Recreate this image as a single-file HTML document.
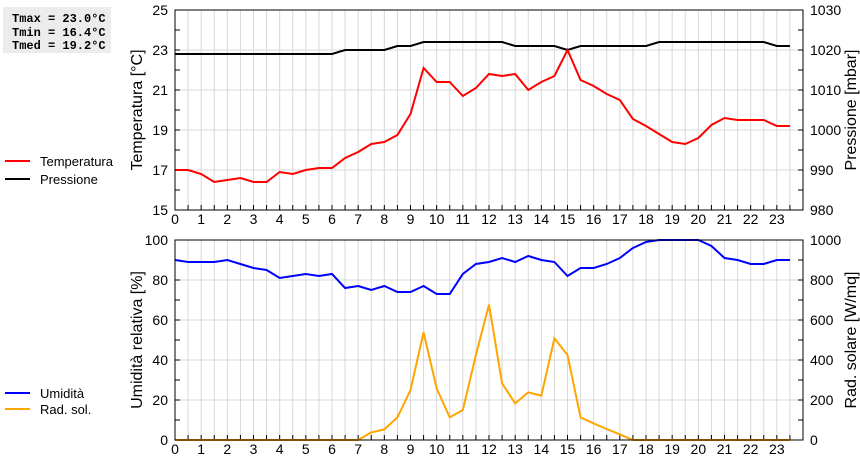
<!DOCTYPE html>
<html><head><meta charset="utf-8"><style>
body{margin:0;background:#fff;width:860px;height:460px;overflow:hidden}
svg{display:block;font-family:"Liberation Sans",sans-serif}
.stats{position:absolute;left:3px;top:7px;width:108px;height:46px;background:#ececec}
</style></head><body>
<svg id="c" width="860" height="460" xmlns="http://www.w3.org/2000/svg">
<rect x="3" y="7" width="108" height="46" fill="#ececec"/>
<g font-family="Liberation Mono,monospace" font-weight="bold" font-size="12" fill="#000">
<text x="12" y="22">Tmax = 23.0°C</text>
<text x="12" y="36">Tmin = 16.4°C</text>
<text x="12" y="49">Tmed = 19.2°C</text>
</g>
<g id="g"></g>
</svg>
<script>
const hours=[];for(let i=0;i<48;i++)hours.push(i/2);
const temp=[17.0,17.0,16.8,16.4,16.5,16.6,16.4,16.4,16.9,16.8,17.0,17.1,17.1,17.6,17.9,18.3,18.4,18.75,19.8,22.1,21.4,21.4,20.7,21.1,21.8,21.7,21.8,21.0,21.4,21.7,23.0,21.5,21.2,20.8,20.5,19.55,19.2,18.8,18.4,18.3,18.6,19.25,19.6,19.5,19.5,19.5,19.2,19.2];
const press=[1019,1019,1019,1019,1019,1019,1019,1019,1019,1019,1019,1019,1019,1020,1020,1020,1020,1021,1021,1022,1022,1022,1022,1022,1022,1022,1021,1021,1021,1021,1020,1021,1021,1021,1021,1021,1021,1022,1022,1022,1022,1022,1022,1022,1022,1022,1021,1021];
const hum=[90,89,89,89,90,88,86,85,81,82,83,82,83,76,77,75,77,74,74,77,73,73,83,88,89,91,89,92,90,89,82,86,86,88,91,96,99,100,100,100,100,97,91,90,88,88,90,90];
const rad=[0,0,0,0,0,0,0,0,0,0,0,0,0,0,0,38,53,113,250,538,258,113,150,425,677,283,183,238,222,508,425,113,83,55,28,0,0,0,0,0,0,0,0,0,0,0,0,0];
const tempTicks=[15,17,19,21,23,25];
const pressTicks=[980,990,1000,1010,1020,1030];
const humTicks=[0,20,40,60,80,100];
const radTicks=[0,200,400,600,800,1000];
const NS="http://www.w3.org/2000/svg";
const G=document.getElementById('g');
const L=175,R=803;
const X=h=>L+(R-L)*h/24;
function el(t,a,p){const e=document.createElementNS(NS,t);for(const k in a)e.setAttribute(k,a[k]);(p||G).appendChild(e);return e;}
function panel(top,bot,lmin,lmax,lt,rmin,rmax,rt,s1,c1,s2,c2,ltitle,rtitle,nm){
 const g=el('g',{});
 
 
 const yL=v=>bot-(bot-top)*(v-lmin)/(lmax-lmin);
 const yR=v=>bot-(bot-top)*(v-rmin)/(rmax-rmin);
 for(let i=1;i<48;i++){const l=el('line',{x1:X(i/2),x2:X(i/2),y1:top,y2:bot,stroke:'#d8d8d8'},g);}
 lt.forEach((v,i)=>{
  if(i>0&&i<lt.length-1){const l=el('line',{x1:L,x2:R,y1:yL(v),y2:yL(v),stroke:'#d8d8d8'},g);}
  const t=el('text',{x:168,y:yL(v)+5,'text-anchor':'end','font-size':14},g);t.textContent=v;
  
  el('line',{x1:L,x2:L+5,y1:yL(v),y2:yL(v),stroke:'#000'},g);
  if(i<lt.length-1){const m=yL((v+lt[i+1])/2);el('line',{x1:L,x2:L+5,y1:m,y2:m,stroke:'#000'},g);el('line',{x1:R-5,x2:R,y1:m,y2:m,stroke:'#000'},g);}
 });
 rt.forEach(v=>{
  const t=el('text',{x:810,y:yR(v)+5,'font-size':14},g);t.textContent=v;
  
  el('line',{x1:R-5,x2:R,y1:yR(v),y2:yR(v),stroke:'#000'},g);
 });
 for(let i=0;i<48;i++){el('line',{x1:X(i/2),x2:X(i/2),y1:bot-5,y2:bot,stroke:'#000'},g);}
 for(let h=0;h<24;h++){const t=el('text',{x:X(h),y:bot+14,'text-anchor':'middle','font-size':14},g);t.textContent=h;}
 const mk=(s,sc,c,n)=>{const p=el('polyline',{points:s.map((v,i)=>X(hours[i])+','+sc(v)).join(' '),fill:'none',stroke:c,'stroke-width':2},g);};
 mk(s2,yR,c2,nm+'-series2');mk(s1,yL,c1,nm+'-series1');
 const f=el('rect',{x:L,y:top,width:R-L,height:bot-top,fill:'none',stroke:'#000'},g);
 const cy=(top+bot)/2;
 const a=el('text',{x:0,y:0,'font-size':16,'text-anchor':'middle',transform:`translate(142,${cy}) rotate(-90)`},g);a.textContent=ltitle;
 const b=el('text',{x:0,y:0,'font-size':16,'text-anchor':'middle',transform:`translate(856,${cy}) rotate(-90)`},g);b.textContent=rtitle;
}
panel(10,210,15,25,tempTicks,980,1030,pressTicks,temp,'#f00',press,'#000','Temperatura [°C]','Pressione [mbar]','top-panel');
panel(240,440,0,100,humTicks,0,1000,radTicks,hum,'#00f',rad,'#ffa500','Umidità relativa [%]','Rad. solare [W/mq]','bottom-panel');
[['Temperatura','#f00',161],['Pressione','#000',179],['Umidità','#00f',393],['Rad. sol.','#ffa500',409]].forEach(d=>{
 const l=el('line',{x1:5,x2:30,y1:d[2],y2:d[2],stroke:d[1],'stroke-width':2});
 
 
 const t=el('text',{x:40,y:d[2]+5,'font-size':13});t.textContent=d[0];
 
 
});
</script>
</body></html>
